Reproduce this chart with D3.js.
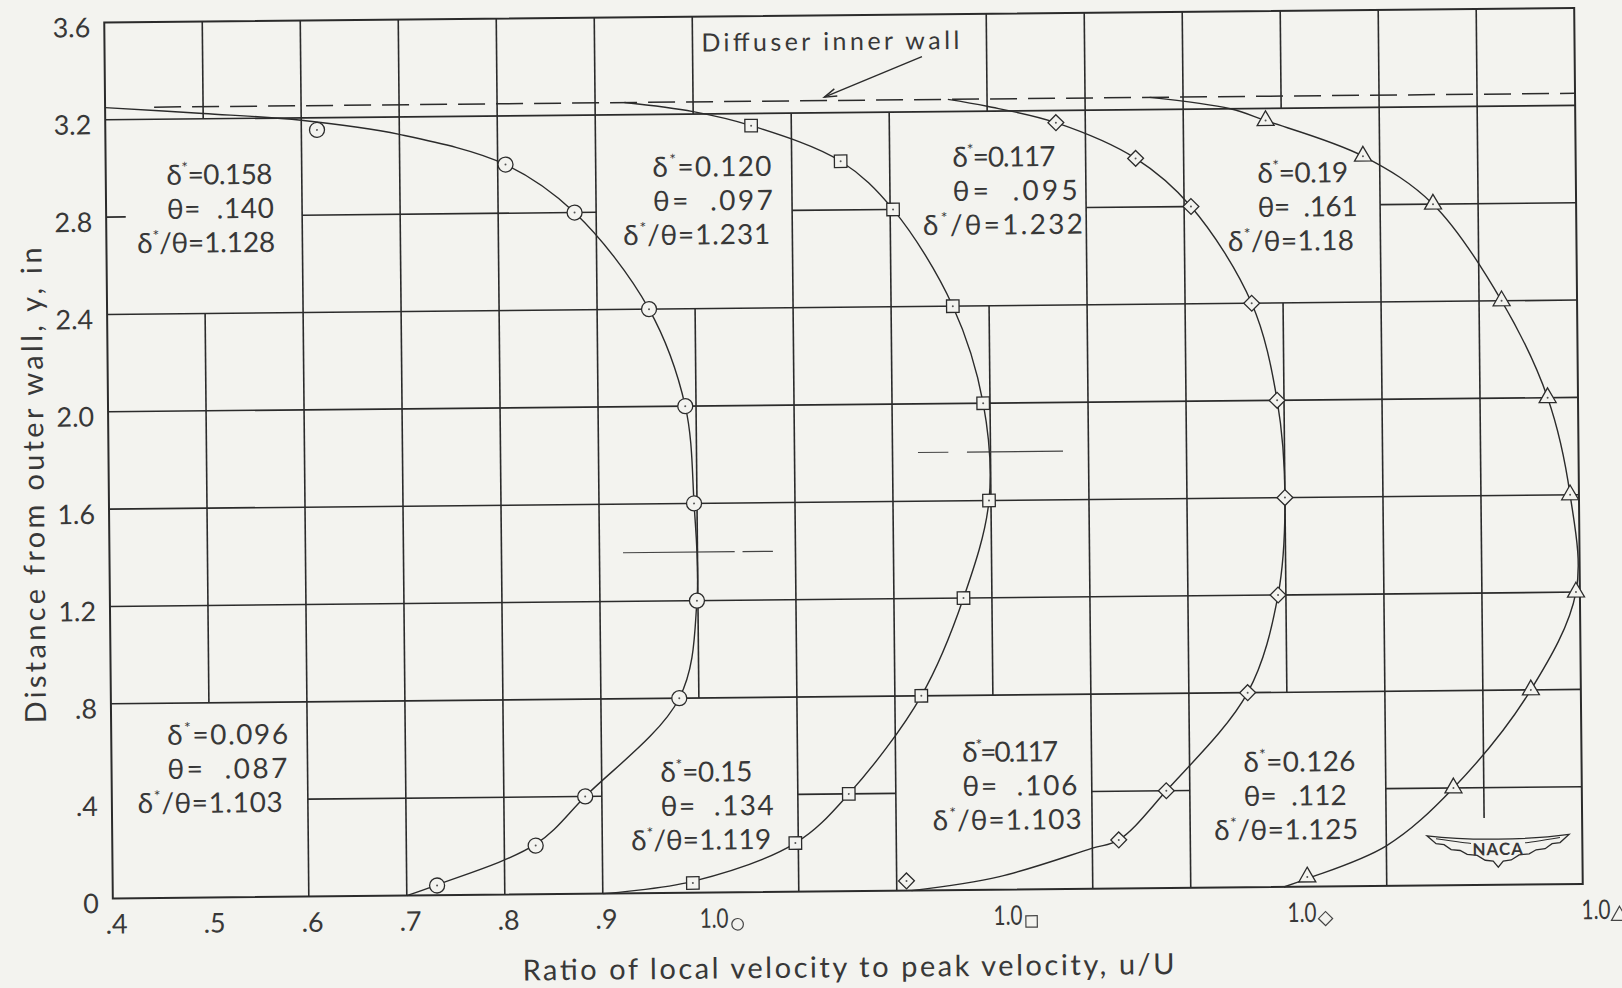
<!DOCTYPE html>
<html>
<head>
<meta charset="utf-8">
<script src="https://cdn.jsdelivr.net/npm/d3@7"></script>
<style>
  html, body { margin: 0; padding: 0; background: #f3f3ef; }
  svg { display: block; }
  text { font-family: Lato, "DejaVu Sans", sans-serif; fill: #383838; }
</style>
</head>
<body>
<div id="chart"></div>
<script>
// ---- values ----
const yTicks = [0, 0.4, 0.8, 1.2, 1.6, 2.0, 2.4, 2.8, 3.2, 3.6];
const yTickLabels = ['0', '.4', '.8', '1.2', '1.6', '2.0', '2.4', '2.8', '3.2', '3.6'];
const xTicks = [0.4, 0.5, 0.6, 0.7, 0.8, 0.9, 1.0, 1.3, 1.6, 1.9];
const xTickLabels = ['.4', '.5', '.6', '.7', '.8', '.9', '1.0', '1.0', '1.0', '1.0'];
const xTickSymbols = [null, null, null, null, null, null, 'circle', 'square', 'diamond', 'triangle'];

const profiles = ['circle', 'square', 'diamond', 'triangle'];
const profileShift = [0, 0.3, 0.6, 0.9];   // each profile is moved 0.3 along the u/U scale

// measuring stations, y (in)
const stationY = [0.04, 0.2, 0.4, 0.8, 1.2, 1.6, 2.0, 2.4, 2.8, 3.0, 3.15];
// u/U at the stations
const circleU   = [0.731, 0.832, 0.883, 0.980, 0.999, 0.997, 0.989, 0.953, 0.878, 0.808, 0.616];
const squareU   = [0.692, 0.797, 0.852, 0.927, 0.971, 0.998, 0.993, 0.963, 0.903, 0.850, 0.759];
const diamondU  = [0.610, 0.827, 0.876, 0.960, 0.992, 1.000, 0.993, 0.968, 0.907, 0.851, 0.770];
const triangleU = [0.719, null,  0.869, 0.949, 0.996, 0.991, 0.969, 0.923, 0.854, 0.783, 0.684];

// faired curves [u/U, y], wall to wall
const circleLine = [[0.70, 0], [0.731, 0.043], [0.832, 0.206], [0.883, 0.40], [0.980, 0.80], [0.999, 1.2],
  [0.997, 1.6], [0.989, 2.0], [0.953, 2.4], [0.878, 2.8], [0.808, 3.0], [0.70, 3.128], [0.60, 3.19],
  [0.50, 3.222], [0.40, 3.25]];
const squareLine = [[0.60, 0], [0.692, 0.047], [0.797, 0.2], [0.852, 0.4], [0.927, 0.8], [0.971, 1.2],
  [0.998, 1.6], [0.993, 2.0], [0.963, 2.4], [0.903, 2.8], [0.850, 3.0], [0.759, 3.15], [0.70, 3.21],
  [0.63, 3.25]];
const diamondLine = [[0.615, 0], [0.705, 0.054], [0.80, 0.167], [0.827, 0.2], [0.876, 0.4], [0.960, 0.8],
  [0.992, 1.2], [1.0, 1.6], [0.993, 2.0], [0.968, 2.4], [0.907, 2.8], [0.851, 3.0], [0.770, 3.15],
  [0.70, 3.22], [0.66, 3.25]];
const triangleLine = [[0.695, 0], [0.719, 0.033], [0.80, 0.165], [0.869, 0.4], [0.949, 0.8], [0.996, 1.2],
  [0.991, 1.6], [0.969, 2.0], [0.923, 2.4], [0.854, 2.8], [0.783, 3.0], [0.684, 3.15], [0.648, 3.20],
  [0.566, 3.25]];

const innerWallY = 3.25;

// boundary-layer parameters written on the plate
const noteDelta = ['0.158', '0.096', '0.120', '0.15', '0.117', '0.117', '0.19', '0.126'];
const noteTheta = ['.140', '.087', '.097', '.134', '.095', '.106', '.161', '.112'];
const noteRatio = ['1.128', '1.103', '1.231', '1.119', '1.232', '1.103', '1.18', '1.125'];

// ---- layout ----
const W = 1622, H = 988;
const ink = '#2b2b2b';
const paper = '#f3f3ef';

// [u, y of first baseline, widths of the three lines]
const noteLayout = [
  [0.462, 2.930, 106, 107, 138],
  [0.457, 0.628, 121, 120, 145],
  [0.958, 2.943, 119, 120, 147],
  [0.960, 0.456, 92, 113, 140],
  [1.264, 2.972, 103, 125, 160],
  [1.268, 0.526, 96, 115, 149],
  [1.575, 2.894, 91, 100, 126],
  [1.555, 0.474, 112, 103, 144]
];

// grid cells left open around the lettering [u0, u1, y0, y1]
const blankCells = [
  [0.4, 0.6, 2.4, 3.2], [0.9, 1.1, 2.4, 3.2], [1.2, 1.4, 2.4, 3.2], [1.5, 1.7, 2.4, 3.2],
  [0.4, 0.6, 0, 0.8], [0.9, 1.1, 0, 0.8], [1.2, 1.4, 0, 0.8], [1.5, 1.7, 0, 0.8],
  [1.0, 1.3, 3.2, 3.6], [1.75, 1.85, 0, 0.275]
];
// faint leftover pencil strokes [y, u0, u1]
const ghostLines = [[1.4, 0.924, 1.038], [1.4, 1.046, 1.077], [1.8, 1.226, 1.257], [1.8, 1.276, 1.374]];

const svg = d3.select('#chart').append('svg')
  .attr('width', W)
  .attr('height', H)
  .style('background', paper);

// the scanned plate sits a little askew
const plate = svg.append('g').attr('transform', 'rotate(-0.56, 843.5, 453.25)');

const x = d3.scaleLinear().domain([0.4, 1.9]).range([108.5, 1578.5]);
const y = d3.scaleLinear().domain([0, 3.6]).range([891.25, 15.25]);

function cut(lo, hi, gaps) {
  let segs = [[lo, hi]];
  gaps.forEach(([a, b]) => {
    segs = segs.flatMap(([s, e]) => {
      if (b <= s || a >= e) return [[s, e]];
      const out = [];
      if (a > s) out.push([s, a]);
      if (b < e) out.push([b, e]);
      return out;
    });
  });
  return segs;
}

// grid
const grid = plate.append('g').attr('stroke', ink).attr('stroke-width', 1.6).attr('fill', 'none');
const eps = 1e-6;
d3.range(5, 19).map(i => i / 10).forEach(v => {
  const gaps = blankCells.filter(c => c[0] < v - eps && v < c[1] - eps).map(c => [c[2], c[3]]);
  cut(0, 3.6, gaps).forEach(([a, b]) => {
    grid.append('line').attr('x1', x(v)).attr('x2', x(v)).attr('y1', y(a)).attr('y2', y(b));
  });
});
d3.range(1, 9).map(i => +(i * 0.4).toFixed(1)).forEach(v => {
  const gaps = blankCells.filter(c => c[2] < v - eps && v < c[3] - eps).map(c => [c[0], c[1]]);
  cut(0.4, 1.9, gaps).forEach(([a, b]) => {
    grid.append('line').attr('x1', x(a)).attr('x2', x(b)).attr('y1', y(v)).attr('y2', y(v));
  });
});
// stub of the 2.8 line at the axis
grid.append('line').attr('x1', x(0.4)).attr('x2', x(0.42)).attr('y1', y(2.8)).attr('y2', y(2.8));

grid.selectAll('.ghost')
  .data(ghostLines)
  .enter().append('line')
  .attr('class', 'ghost')
  .attr('stroke-width', 1.2)
  .attr('stroke', '#444')
  .attr('x1', d => x(d[1])).attr('x2', d => x(d[2]))
  .attr('y1', d => y(d[0])).attr('y2', d => y(d[0]));

// frame
plate.append('rect')
  .attr('x', x(0.4)).attr('y', y(3.6))
  .attr('width', x(1.9) - x(0.4)).attr('height', y(0) - y(3.6))
  .attr('fill', 'none').attr('stroke', ink).attr('stroke-width', 2);

// diffuser inner wall
plate.append('line')
  .attr('x1', x(0.45)).attr('x2', x(1.9))
  .attr('y1', y(innerWallY)).attr('y2', y(innerWallY))
  .attr('stroke', ink).attr('stroke-width', 1.5)
  .attr('stroke-dasharray', '27 11');

plate.append('text')
  .attr('x', x(1.009)).attr('y', y(3.457))
  .attr('font-size', 25)
  .attr('textLength', 258).attr('lengthAdjust', 'spacing')
  .text('Diffuser inner wall');

const arrowFrom = [x(1.234), y(3.427)], arrowTo = [x(1.134), y(3.264)];
plate.append('line')
  .attr('x1', arrowFrom[0]).attr('y1', arrowFrom[1])
  .attr('x2', arrowTo[0]).attr('y2', arrowTo[1])
  .attr('stroke', ink).attr('stroke-width', 1.4);
const ang = Math.atan2(arrowTo[1] - arrowFrom[1], arrowTo[0] - arrowFrom[0]);
const barb = s => [arrowTo[0] - 13 * Math.cos(ang + s), arrowTo[1] - 13 * Math.sin(ang + s)];
plate.append('path')
  .attr('d', 'M' + barb(0.3) + 'L' + arrowTo + 'L' + barb(-0.3))
  .attr('fill', 'none').attr('stroke', ink).attr('stroke-width', 1.4);

// axes (labels only, the grid is hand ruled)
const yAxis = d3.axisLeft(y)
  .tickValues(yTicks)
  .tickFormat((d, i) => yTickLabels[i])
  .tickSize(0)
  .tickPadding(14);
plate.append('g')
  .attr('transform', `translate(${x(0.4)},0)`)
  .call(yAxis)
  .attr('font-size', 27)
  .call(g => g.select('.domain').remove())
  .selectAll('text')
  .attr('dy', '0.52em');

const xAxis = d3.axisBottom(x)
  .tickValues(xTicks)
  .tickFormat((d, i) => xTickLabels[i])
  .tickSize(0)
  .tickPadding(16);
const xg = plate.append('g')
  .attr('transform', `translate(0,${y(0)})`)
  .call(xAxis)
  .attr('font-size', 27)
  .call(g => g.select('.domain').remove());

const symbolType = {
  circle: d3.symbolCircle,
  square: d3.symbolSquare,
  diamond: d3.symbolSquare,
  triangle: d3.symbolTriangle
};
const markSize = { circle: 177, square: 156, diamond: 125, triangle: 125 };
const subSize = { circle: 105, square: 130, diamond: 100, triangle: 115 };

xg.selectAll('.tick').each(function (d, i) {
  const t = d3.select(this).select('text');
  if (!xTickSymbols[i]) {
    t.attr('x', 3);
    return;
  }
  // the "1.0" of each shifted profile, with its symbol as a subscript
  t.attr('text-anchor', 'start').attr('x', -2)
    .attr('textLength', 29).attr('lengthAdjust', 'spacingAndGlyphs');
  const s = xTickSymbols[i];
  d3.select(this).append('path')
    .attr('d', d3.symbol().type(symbolType[s]).size(subSize[s])())
    .attr('transform', `translate(36,32)` + (s === 'diamond' ? ' rotate(45)' : ''))
    .attr('fill', 'none')
    .attr('stroke', '#444')
    .attr('stroke-width', 1.2);
});

// faired velocity profiles
const lines = [circleLine, squareLine, diamondLine, triangleLine];
const values = [circleU, squareU, diamondU, triangleU];
const line = d3.line().curve(d3.curveCatmullRom.alpha(0.5));

profiles.forEach((p, k) => {
  const shift = profileShift[k];
  plate.append('path')
    .datum(lines[k])
    .attr('d', line.x(d => x(d[0] + shift)).y(d => y(d[1])))
    .attr('fill', 'none')
    .attr('stroke', ink)
    .attr('stroke-width', 1.4);

  const pts = stationY
    .map((yv, i) => ({ u: values[k][i], y: yv }))
    .filter(d => d.u !== null);

  const mark = plate.selectAll('.mark-' + p)
    .data(pts)
    .enter().append('g')
    .attr('class', 'mark-' + p)
    .attr('transform', d => `translate(${x(d.u + shift)},${y(d.y)})`);

  mark.append('path')
    .attr('d', d3.symbol().type(symbolType[p]).size(markSize[p])())
    .attr('transform', p === 'diamond' ? 'rotate(45)' : null)
    .attr('fill', paper)
    .attr('stroke', ink)
    .attr('stroke-width', 1.3);

  mark.append('circle')
    .attr('r', 1)
    .attr('fill', '#555');
});

// lettering
noteDelta.forEach((dv, i) => {
  const [u, v, w1, w2, w3] = noteLayout[i];
  const x0 = x(u), y0 = y(v);
  const g = plate.append('g').attr('font-size', 28);

  const l1 = g.append('text').attr('x', x0).attr('y', y0)
    .attr('textLength', w1).attr('lengthAdjust', 'spacing');
  l1.append('tspan').text('δ');
  l1.append('tspan').attr('dy', -11).attr('font-size', 16).text('*');
  l1.append('tspan').attr('dy', 11).text('=' + dv);

  g.append('text').attr('x', x0).attr('y', y0 + 34)
    .attr('textLength', w2).attr('lengthAdjust', 'spacing')
    .style('white-space', 'pre')
    .text('θ=  ' + noteTheta[i]);

  const l3 = g.append('text').attr('x', x0 - 30).attr('y', y0 + 68)
    .attr('textLength', w3).attr('lengthAdjust', 'spacing');
  l3.append('tspan').text('δ');
  l3.append('tspan').attr('dy', -11).attr('font-size', 16).text('*');
  l3.append('tspan').attr('dy', 11).text('/θ=' + noteRatio[i]);
});

// axis titles
plate.append('text')
  .attr('x', x(1.15)).attr('y', y(0) + 86)
  .attr('text-anchor', 'middle')
  .attr('font-size', 29)
  .attr('textLength', 652).attr('lengthAdjust', 'spacing')
  .text('Ratio of local velocity to peak velocity, u/U');

plate.append('text')
  .attr('transform', `translate(${x(0.4) - 65},${y(1.7)}) rotate(-90)`)
  .attr('text-anchor', 'middle')
  .attr('font-size', 29)
  .attr('textLength', 476).attr('lengthAdjust', 'spacing')
  .text('Distance from outer wall, y, in');

// NACA wings
const logo = plate.append('g')
  .attr('transform', `translate(${x(1.814)},${y(0.151)})`);
logo.append('path')
  .attr('d', 'M-71,-13 Q-40,-9 0,-9 Q40,-9 71,-13 L62,-5 L54,-4 L47,1 L38,2 L31,6 L21,7 L13,12 L5,13 L0,19 ' +
    'L-5,13 L-13,12 L-21,7 L-31,6 L-38,2 L-47,1 L-54,-4 L-62,-5 Z')
  .attr('fill', 'none').attr('stroke', ink).attr('stroke-width', 1.3);
logo.append('path')
  .attr('d', 'M-62,-10 Q-30,-5 -27,-5 M62,-10 Q30,-5 27,-5')
  .attr('fill', 'none').attr('stroke', ink).attr('stroke-width', 1);
logo.append('text')
  .attr('x', 0).attr('y', 7)
  .attr('text-anchor', 'middle')
  .attr('font-size', 17)
  .attr('font-weight', 'bold')
  .attr('letter-spacing', 1)
  .text('NACA');
</script>
</body>
</html>
